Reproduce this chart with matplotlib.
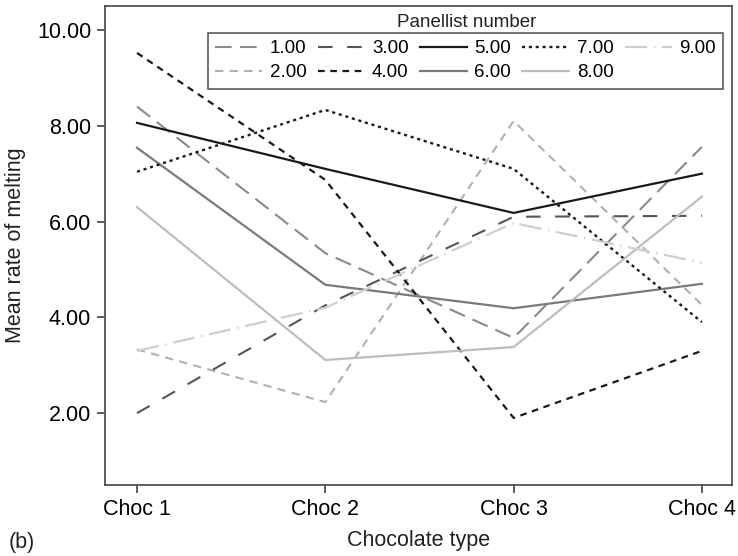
import matplotlib
matplotlib.use("Agg")
import matplotlib.pyplot as plt

plt.rcParams['font.family'] = ['Liberation Sans', 'DejaVu Sans']

# --- data ---
chocolates = ['Choc 1', 'Choc 2', 'Choc 3', 'Choc 4']
panellists = ['1.00', '2.00', '3.00', '4.00', '5.00', '6.00', '7.00', '8.00', '9.00']

p1 = [8.40, 5.34, 3.57, 7.56]
p2 = [3.33, 2.23, 8.10, 4.26]
p3 = [2.00, 4.25, 6.10, 6.12]
p4 = [9.52, 6.87, 1.90, 3.30]
p5 = [8.06, 7.10, 6.18, 7.00]
p6 = [7.54, 4.68, 4.19, 4.70]
p7 = [7.04, 8.33, 7.10, 3.90]
p8 = [6.30, 3.11, 3.38, 6.52]
p9 = [3.30, 4.20, 5.97, 5.14]
series = [p1, p2, p3, p4, p5, p6, p7, p8, p9]

# grey-scale styles, one per panellist
colors = ['#8a8a8a', '#b0b0b0', '#555555', '#1a1a1a', '#1a1a1a',
          '#7a7a7a', '#1a1a1a', '#bdbdbd', '#cfcfcf']
dashes = [(8, 4), (4, 3), (7, 7), (3, 2.5), (), (), (1.3, 1.6), (), (10, 3, 0.6, 3)]
widths = [1.5, 1.5, 1.5, 1.6, 1.6, 1.6, 1.7, 1.6, 1.6]

fig = plt.figure(figsize=(7.38, 5.56), dpi=100)
ax = fig.add_axes([0.1423, 0.1277, 0.8496, 0.8615])

x = list(range(1, len(chocolates) + 1))
for vals, lab, c, d, w in zip(series, panellists, colors, dashes, widths):
    line, = ax.plot(x, vals, color=c, lw=w, label=lab)
    if d:
        line.set_dashes(d)

ax.set_xlim(0.83, 4.16)
ax.set_ylim(0.5, 10.5)
ax.set_xticks(x)
ax.set_xticklabels(chocolates)
ax.set_yticks([2, 4, 6, 8, 10])
ax.set_yticklabels(['%.2f' % v for v in [2, 4, 6, 8, 10]])
ax.tick_params(labelsize=15.5, length=6, width=1.1, color='#333333', direction='out', pad=4)

for s in ax.spines.values():
    s.set_color('#444444')
    s.set_linewidth(1.2)

ax.set_xlabel('Chocolate type', fontsize=15.5, color='#222222', labelpad=7)
ax.set_ylabel('Mean rate of melting', fontsize=15.5, color='#222222', labelpad=8)

leg = ax.legend(ncol=5, loc='upper right', bbox_to_anchor=(0.986, 0.944),
                fontsize=13.5, handlelength=2.5, columnspacing=0.6, handletextpad=0.4,
                labelspacing=0.35, borderpad=0.4, borderaxespad=0,
                frameon=True, fancybox=False)
leg.get_frame().set_edgecolor('#222222')
leg.get_frame().set_linewidth(1.1)

ax.text(0.577, 0.965, 'Panellist number', transform=ax.transAxes,
        ha='center', va='center', fontsize=13.5, color='#222222')

fig.text(0.012, 0.024, '(b)', fontsize=15.5, color='#222222', ha='left', va='center')

fig.savefig('out.png', dpi=100)
